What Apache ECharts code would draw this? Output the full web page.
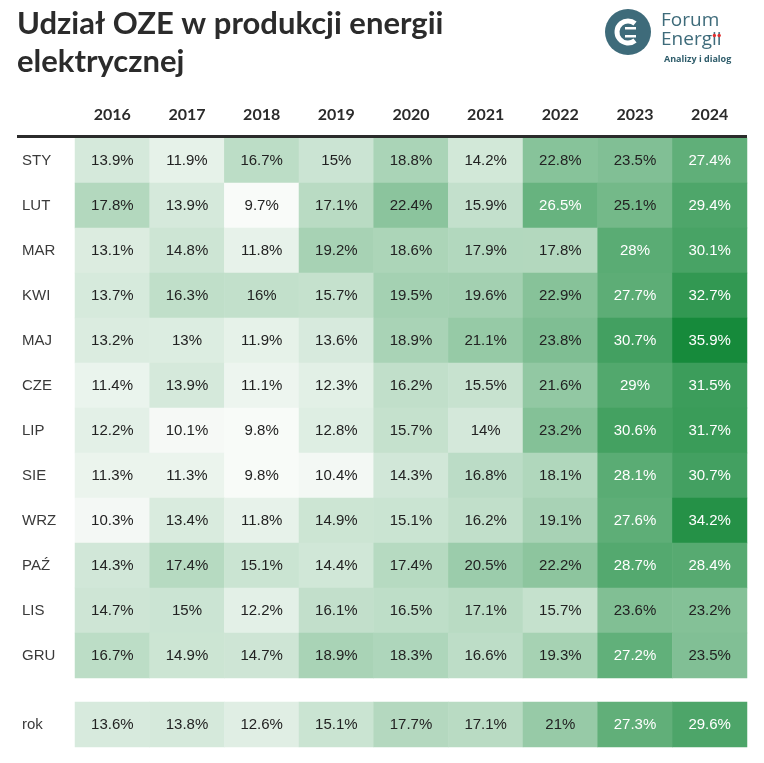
<!DOCTYPE html>
<html><head><meta charset="utf-8">
<script src="https://cdn.jsdelivr.net/npm/echarts@6/dist/echarts.min.js"></script>
<style>html,body{margin:0;padding:0;background:#fff}#c{width:764px;height:763px}</style>
</head><body><div id="c"></div>
<script>
const years = ['2016','2017','2018','2019','2020','2021','2022','2023','2024'];
const months = ['STY','LUT','MAR','KWI','MAJ','CZE','LIP','SIE','WRZ','PAŹ','LIS','GRU'];
const STY = [13.9, 11.9, 16.7, 15, 18.8, 14.2, 22.8, 23.5, 27.4];
const LUT = [17.8, 13.9, 9.7, 17.1, 22.4, 15.9, 26.5, 25.1, 29.4];
const MAR = [13.1, 14.8, 11.8, 19.2, 18.6, 17.9, 17.8, 28, 30.1];
const KWI = [13.7, 16.3, 16, 15.7, 19.5, 19.6, 22.9, 27.7, 32.7];
const MAJ = [13.2, 13, 11.9, 13.6, 18.9, 21.1, 23.8, 30.7, 35.9];
const CZE = [11.4, 13.9, 11.1, 12.3, 16.2, 15.5, 21.6, 29, 31.5];
const LIP = [12.2, 10.1, 9.8, 12.8, 15.7, 14, 23.2, 30.6, 31.7];
const SIE = [11.3, 11.3, 9.8, 10.4, 14.3, 16.8, 18.1, 28.1, 30.7];
const WRZ = [10.3, 13.4, 11.8, 14.9, 15.1, 16.2, 19.1, 27.6, 34.2];
const PAZ = [14.3, 17.4, 15.1, 14.4, 17.4, 20.5, 22.2, 28.7, 28.4];
const LIS = [14.7, 15, 12.2, 16.1, 16.5, 17.1, 15.7, 23.6, 23.2];
const GRU = [16.7, 14.9, 14.7, 18.9, 18.3, 16.6, 19.3, 27.2, 23.5];
const ROK = [13.6, 13.8, 12.6, 15.1, 17.7, 17.1, 21, 27.3, 29.6];
const yearLabel = ['rok'];

const monthRows = [STY, LUT, MAR, KWI, MAJ, CZE, LIP, SIE, WRZ, PAZ, LIS, GRU];
const WHITE_AT = 26;
function item(x, y, v) {
  return { value: [x, y, v], label: { color: v > WHITE_AT ? '#ffffff' : '#222222' } };
}
const monthData = [];
monthRows.forEach((row, yi) => row.forEach((v, xi) => monthData.push(item(xi, yi, v))));
const rokData = ROK.map((v, xi) => item(xi, 0, v));

const allVals = monthRows.flat().concat(ROK);
const vmin = Math.min(...allVals), vmax = Math.max(...allVals);

// measure logo text to place red dots on the "ii"
const logoFont = '19px "Open Sans"';
const mctx = document.createElement('canvas').getContext('2d');
mctx.font = logoFont;
const wEnerg = mctx.measureText('Energ').width;
const wI = mctx.measureText('i').width;
const logoX = 661;

const chart = echarts.init(document.getElementById('c'), null, { renderer: 'canvas' });
const cellFont = 'Liberation Sans';
const labelCommon = { show: true, fontFamily: cellFont, fontSize: 15, formatter: p => p.value[2] + '%' };
const LOGO = '#3e6b7a';
chart.setOption({
  animation: false,
  backgroundColor: '#ffffff',
  grid: [
    { left: 75, top: 138, width: 672, height: 540 },
    { left: 75, top: 702, width: 672, height: 45 }
  ],
  xAxis: [
    { type: 'category', data: years, gridIndex: 0, position: 'top',
      axisLine: { show: false }, axisTick: { show: false }, splitLine: { show: false },
      axisLabel: { fontFamily: 'Lato', fontWeight: 'bold', fontSize: 16, color: '#2b2b2b', margin: 15 } },
    { type: 'category', data: years, gridIndex: 1, show: false }
  ],
  yAxis: [
    { type: 'category', data: months, gridIndex: 0, inverse: true,
      axisLine: { show: false }, axisTick: { show: false }, splitLine: { show: false },
      axisLabel: { align: 'left', margin: 53, fontFamily: cellFont, fontSize: 15, color: '#3a3a3a' } },
    { type: 'category', data: yearLabel, gridIndex: 1,
      axisLine: { show: false }, axisTick: { show: false }, splitLine: { show: false },
      axisLabel: { align: 'left', margin: 53, fontFamily: cellFont, fontSize: 15, color: '#3a3a3a' } }
  ],
  visualMap: {
    type: 'continuous', show: false, min: vmin, max: vmax, dimension: 2,
    seriesIndex: [0, 1],
    inRange: { color: ['#f9fbf9', '#168a3b'] }
  },
  series: [
    { type: 'heatmap', xAxisIndex: 0, yAxisIndex: 0, data: monthData, label: labelCommon,
      emphasis: { disabled: true }, itemStyle: { borderWidth: 0 } },
    { type: 'heatmap', xAxisIndex: 1, yAxisIndex: 1, data: rokData, label: labelCommon,
      emphasis: { disabled: true }, itemStyle: { borderWidth: 0 } }
  ],
  graphic: [
    { type: 'text', left: 17, top: 5, style: { text: 'Udział OZE w produkcji energii\nelektrycznej',
      font: 'bold 31px Lato', fill: '#2b2b2b', lineHeight: 38 } },
    { type: 'rect', shape: { x: 17, y: 135, width: 730, height: 3 }, style: { fill: '#2b2b2b' }, z: 10 },
    // logo
    { type: 'circle', shape: { cx: 628, cy: 32, r: 23 }, style: { fill: LOGO } },
    { type: 'arc', shape: { cx: 628, cy: 32, r: 11, startAngle: Math.PI * 0.28, endAngle: Math.PI * 1.72 },
      style: { stroke: '#fff', lineWidth: 5, fill: null } },
    { type: 'rect', shape: { x: 625, y: 27, width: 11, height: 2.5 }, style: { fill: '#fff' } },
    { type: 'rect', shape: { x: 625, y: 35, width: 11, height: 2.5 }, style: { fill: '#fff' } },
    { type: 'text', left: logoX, top: 11, style: { text: 'Forum', font: logoFont, fill: LOGO } },
    { type: 'text', left: logoX, top: 30, style: { text: 'Energii', font: logoFont, fill: LOGO } },
    { type: 'circle', shape: { cx: logoX + wEnerg + wI * 0.5, cy: 35.5, r: 1.7 }, style: { fill: '#e03030' }, z: 20 },
    { type: 'circle', shape: { cx: logoX + wEnerg + wI * 1.5, cy: 35.5, r: 1.7 }, style: { fill: '#e03030' }, z: 20 },
    { type: 'text', left: 664, top: 55, style: { text: 'Analizy i dialog', font: 'bold 9px "Open Sans"', fill: '#2f5d6b' } }
  ]
});
</script></body></html>
